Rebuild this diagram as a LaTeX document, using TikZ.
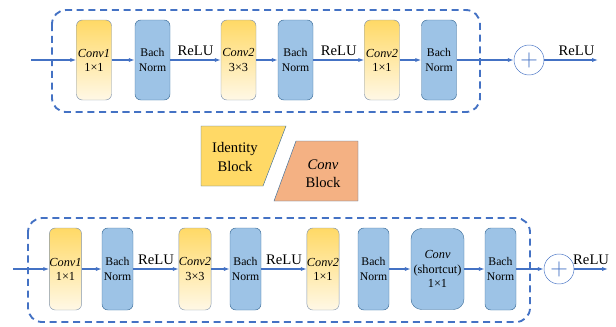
\documentclass[tikz,border=0pt]{standalone}
\usepackage{fontspec}
\setmainfont{Liberation Serif}
\usetikzlibrary{arrows.meta,positioning}
\definecolor{lineblue}{HTML}{4472C4}
\definecolor{normfill}{HTML}{9DC3E6}
\definecolor{normedge}{HTML}{41719C}
\definecolor{convtop}{HTML}{FFD966}
\definecolor{convbot}{HTML}{FFF8E6}
\definecolor{convedge}{HTML}{8497B0}
\definecolor{idfill}{HTML}{FFD966}
\definecolor{cbfill}{HTML}{F4B183}

\tikzset{
  convbox/.style={draw=convedge, rounded corners=5pt, top color=convtop, bottom color=convbot, align=center,
    font=\fontsize{10.5}{12}\selectfont, inner sep=0pt, minimum width=1.05cm, minimum height=2.4cm},
  normbox/.style={draw=normedge, fill=normfill, rounded corners=5pt, align=center,
    font=\fontsize{10}{12}\selectfont, inner sep=0pt, minimum width=1.05cm, minimum height=2.4cm},
  sumnode/.style={circle, draw=lineblue, fill=white, minimum size=0.9cm, inner sep=0pt, text=lineblue,
    font=\fontsize{22}{22}\selectfont},
  flow/.style={-{Latex[length=5pt,width=3.5pt]}, lineblue, line width=0.9pt},
  blockframe/.style={lineblue, line width=1.6pt, dash pattern=on 6pt off 4pt, rounded corners=12pt},
  relulabel/.style={midway, above=2pt, text=black, font=\fontsize{12.5}{14}\selectfont, inner sep=1pt}
}

\begin{document}
\begin{tikzpicture}[x=0.03cm, y=-0.03cm]
    \useasboundingbox (0,0) rectangle (616,326);

    % Identity block (oben)
    \draw[blockframe] (52,10) rectangle (480,112);
    \coordinate (idin) at (31,60);
    \node[convbox] (idconvA) at (94,60) {\textit{Conv1}\\1×1};
    \node[normbox] (idnormA) at (152.5,60) {Bach\\Norm};
    \node[convbox] (idconvB) at (238.5,60) {\textit{Conv2}\\3×3};
    \node[normbox] (idnormB) at (295.5,60) {Bach\\Norm};
    \node[convbox] (idconvC) at (382,60) {\textit{Conv2}\\1×1};
    \node[normbox] (idnormC) at (439,60) {Bach\\Norm};
    \node[sumnode] (idsum) at (529,60) {$+$};
    \coordinate (idout) at (598,60);

    \draw[flow] (idin) -- (idconvA);
    \draw[flow] (idconvA) -- (idnormA);
    \draw[flow] (idnormA) -- (idconvB) node[relulabel] {ReLU};
    \draw[flow] (idconvB) -- (idnormB);
    \draw[flow] (idnormB) -- (idconvC) node[relulabel] {ReLU};
    \draw[flow] (idconvC) -- (idnormC);
    \draw[flow] (idnormC) -- (idsum);
    \draw[flow] (idsum) -- (idout) node[relulabel, pos=0.6] {ReLU};

    % Legende
    \draw[draw=normedge, fill=idfill] (201,126) -- (286,126) -- (263,186) -- (201,186) -- cycle;
    \node[align=center, font=\fontsize{12.5}{16}\selectfont] (idlegend) at (235,157) {Identity\\Block};
    \draw[draw=normedge, fill=cbfill] (296,141) -- (358,141) -- (358,201) -- (274,201) -- cycle;
    \node[align=center, font=\fontsize{12.5}{15}\selectfont] (cblegend) at (323,174) {\textit{Conv}\\Block};

    % Conv block (unten)
    \draw[blockframe] (28,218) rectangle (530,322);
    \coordinate (cbin) at (13,269);
    \node[convbox, minimum width=0.93cm, minimum height=2.46cm] (cbconvA) at (65.5,269) {\textit{Conv1}\\1×1};
    \node[normbox, minimum width=0.93cm, minimum height=2.46cm] (cbnormA) at (117.5,269) {Bach\\Norm};
    \node[convbox, minimum width=0.93cm, minimum height=2.46cm] (cbconvB) at (195,269) {\textit{Conv2}\\3×3};
    \node[normbox, minimum width=0.93cm, minimum height=2.46cm] (cbnormB) at (245.5,269) {Bach\\Norm};
    \node[convbox, minimum width=0.93cm, minimum height=2.46cm] (cbconvC) at (323,269) {\textit{Conv2}\\1×1};
    \node[normbox, minimum width=0.93cm, minimum height=2.46cm] (cbnormC) at (373.5,269) {Bach\\Norm};
    \node[normbox, rounded corners=9pt, minimum width=1.59cm, minimum height=2.43cm,
      font=\fontsize{10.5}{12.5}\selectfont] (cbshort) at (437.5,269) {\textit{Conv}\\(shortcut)\\1×1};
    \node[normbox, minimum width=0.93cm, minimum height=2.46cm] (cbnormD) at (500.5,269) {Bach\\Norm};
    \node[sumnode] (cbsum) at (559,269) {$+$};
    \coordinate (cbout) at (608,269);

    \draw[flow] (cbin) -- (cbconvA);
    \draw[flow] (cbconvA) -- (cbnormA);
    \draw[flow] (cbnormA) -- (cbconvB) node[relulabel] {ReLU};
    \draw[flow] (cbconvB) -- (cbnormB);
    \draw[flow] (cbnormB) -- (cbconvC) node[relulabel] {ReLU};
    \draw[flow] (cbnormC) -- (cbshort);
    \draw[flow] (cbshort) -- (cbnormD);
    \draw[flow] (cbnormD) -- (cbsum);
    \draw[flow] (cbsum) -- (cbout) node[relulabel] {ReLU};
\end{tikzpicture}
\end{document}
